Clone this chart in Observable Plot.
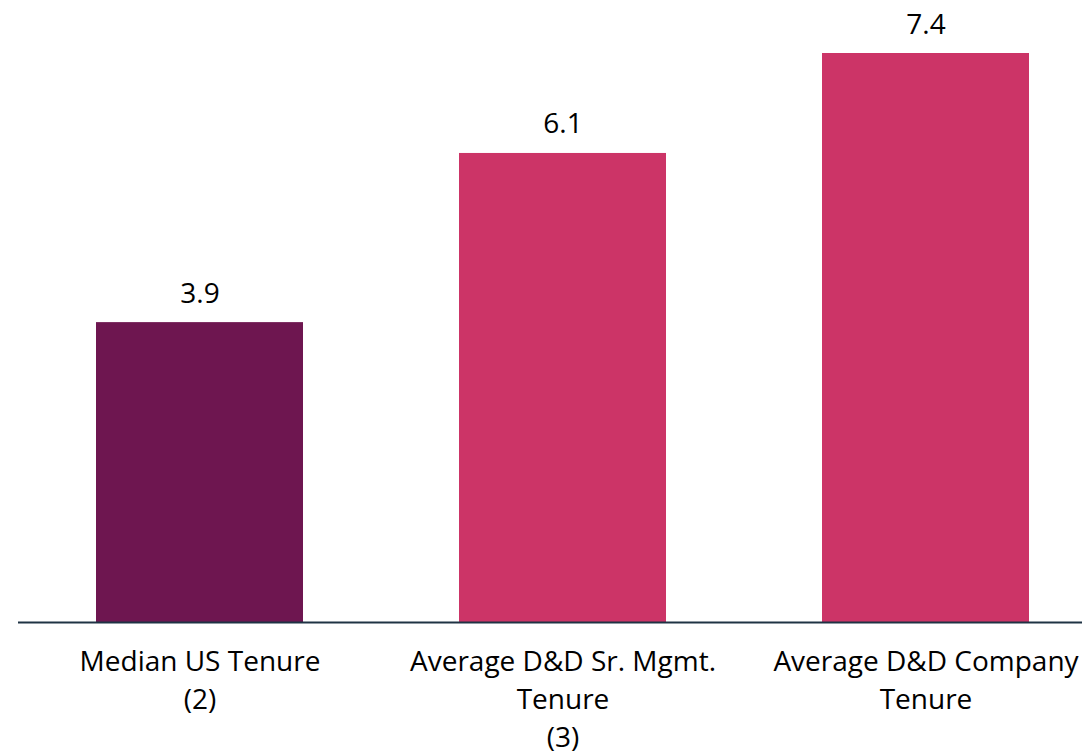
<!DOCTYPE html>
<html>
<head>
<meta charset="utf-8">
<script src="https://cdn.jsdelivr.net/npm/d3@7"></script>
<script src="https://cdn.jsdelivr.net/npm/@observablehq/plot@0.6"></script>
<style>
  html, body { margin: 0; padding: 0; background: #fff; }
  #chart svg { display: block; overflow: visible; }
</style>
</head>
<body>
<div id="chart"></div>
<script>
const categories = ["Median US Tenure\n(2)", "Average D&D Sr. Mgmt.\nTenure\n(3)", "Average D&D Company\nTenure"];
const values = [3.9, 6.1, 7.4];
const valueLabels = ["3.9", "6.1", "7.4"];
const colors = ["#6E1650", "#CC3467", "#CC3467"];

const data = categories.map((c, i) => ({cat: c, value: values[i], label: valueLabels[i], color: colors[i]}));
const font = "'Open Sans', sans-serif";

const chart = Plot.plot({
  width: 1082,
  height: 755,
  marginLeft: 18,
  marginRight: 0,
  marginTop: 0,
  marginBottom: 0,
  style: {fontFamily: font, background: "transparent"},
  x: {domain: categories, range: [18, 1107], paddingInner: 0.43, paddingOuter: 0.215, axis: null},
  y: {domain: [0, 7.4], range: [622, 53], axis: null},
  marks: [
    Plot.barY(data, {x: "cat", y: "value", fill: "color"}),
    Plot.ruleY([0], {stroke: "#1F3344", strokeWidth: 2}),
    Plot.text(data, {x: "cat", y: "value", text: "label", dy: -20, lineAnchor: "bottom", fontSize: 28, fontFamily: font, fill: "#000"}),
    Plot.text(data, {x: "cat", y: 0, text: "cat", dy: 22, lineAnchor: "top", lineHeight: 1.357, fontSize: 28, fontFamily: font, fill: "#000"})
  ]
});
document.getElementById("chart").append(chart);
</script>
</body>
</html>
